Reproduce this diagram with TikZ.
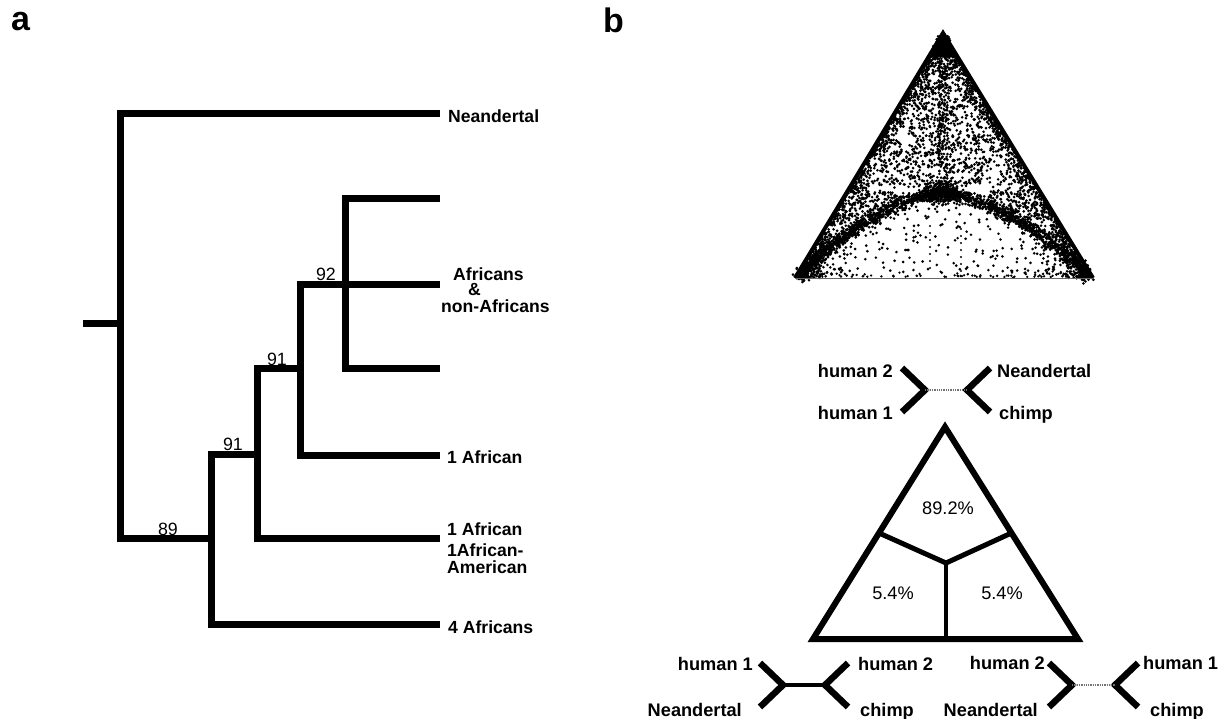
\documentclass[tikz,border=0pt]{standalone}
\usepackage{fontspec}
\setmainfont{Liberation Sans}
\usetikzlibrary{calc}
\begin{document}
\begin{tikzpicture}[x=1pt,y=-1pt,
  branch/.style={line width=7pt, line join=miter},
  lab/.style={font=\fontsize{17.6}{18}\selectfont\bfseries, inner sep=0pt},
  num/.style={font=\fontsize{17.8}{18}\selectfont, inner sep=0pt},
  qlab/.style={font=\fontsize{18.2}{19}\selectfont\bfseries, inner sep=0pt},
  pct/.style={font=\fontsize{18.2}{19}\selectfont, inner sep=0pt},
  panel/.style={font=\fontsize{34}{36}\selectfont\bfseries, inner sep=0pt},
  arm/.style={line width=6.5pt, line join=miter},
  shortbar/.style={line width=1.3pt, black!55, densely dotted},
  longbar/.style={line width=4.5pt},
  tri/.style={line width=6pt, line join=miter},
  dot/.style={fill=black}]
\useasboundingbox (0,0) rectangle (1225,719);

% ---------- panel labels
\node[panel, anchor=base west] (pa) at (11,31) {a};
\node[panel, anchor=base west] (pb) at (603,33) {b};

% ---------- tree (a)
\coordinate (root) at (83,323);
\coordinate (n0) at (120,323);
\coordinate (n89) at (211,538);
\coordinate (n91a) at (257,454);
\coordinate (n91b) at (300,368);
\coordinate (n92) at (345,284);
\coordinate (LN) at (440,114);
\coordinate (La) at (440,199);
\coordinate (Lb) at (440,284);
\coordinate (Lc) at (440,368);
\coordinate (L1) at (440,455);
\coordinate (L2) at (440,538);
\coordinate (L4) at (440,624);

\draw[branch] (root) -- (n0);
\draw[branch] (LN) -| (n0) |- (n89);
\draw[branch] (n91a) -| (n89) |- (L4);
\draw[branch] (n91b) -| (n91a) |- (L2);
\draw[branch] (n92) -| (n91b) |- (L1);
\draw[branch] (La) -| (n92) |- (Lc);
\draw[branch] (n92) -- (Lb);

\node[num, anchor=base east] (b92) at (336,280) {92};
\node[num, anchor=base east] (b91u) at (287,365) {91};
\node[num, anchor=base east] (b91l) at (243,450) {91};
\node[num, anchor=base east] (b89) at (178,535) {89};

\node[lab, anchor=base west] (tN) at (448,123) {Neandertal};
\node[lab, anchor=base west] (tAf1) at (453,280) {Africans};
\node[lab, anchor=base west] (tAf2) at (468,295.5) {\&};
\node[lab, anchor=base west] (tAf3) at (441,312) {non-Africans};
\node[lab, anchor=base west] (t1A) at (447,463) {1 African};
\node[lab, anchor=base west] (t2a) at (447,535) {1 African};
\node[lab, anchor=base west] (t2b) at (447,556) {1African-};
\node[lab, anchor=base west] (t2c) at (447,573) {American};
\node[lab, anchor=base west] (t4A) at (448,633) {4 Africans};

% ---------- scatter triangle (b, top)
\coordinate (SA) at (795,278);
\coordinate (SB) at (1093,278);
\coordinate (SC) at (943,33);
\pgfmathsetseed{4321}
% uniform over whole triangle (sparse)
\foreach \i in {1,...,450}{
  \pgfmathsetmacro\u{rnd}\pgfmathsetmacro\v{rnd}
  \pgfmathsetmacro\uu{(\u+\v>1)?1-\u:\u}
  \pgfmathsetmacro\vv{(\u+\v>1)?1-\v:\v}
  \fill[dot] ({795+298*\uu+148*\vv},{278-245*\vv}) circle (1.45);
}
% extra density in upper part
\foreach \i in {1,...,1050}{
  \pgfmathsetmacro\u{rnd}\pgfmathsetmacro\v{rnd}
  \pgfmathsetmacro\uu{(\u+\v>1)?1-\u:\u}
  \pgfmathsetmacro\vv{(\u+\v>1)?1-\v:\v}
  \fill[dot] ({851.2+184.8*\uu+91.8*\vv},{184.9-151.9*\vv}) circle (1.45);
}
% side lobes
\foreach \i in {1,...,240}{
  \pgfmathsetmacro\u{rnd}\pgfmathsetmacro\v{rnd}
  \pgfmathsetmacro\uu{(\u+\v>1)?1-\u:\u}
  \pgfmathsetmacro\vv{(\u+\v>1)?1-\v:\v}
  \fill[dot] ({800+51*\uu+105*\vv},{275-90*\uu-80*\vv}) circle (1.45);
  \fill[dot] ({1088-52*\uu-108*\vv},{275-90*\uu-80*\vv}) circle (1.45);
}
% left and right edge bands
\foreach \i in {1,...,650}{
  \pgfmathsetmacro\t{rnd}\pgfmathsetmacro\d{rnd*rnd*16}
  \fill[dot] ({795+148*\t+0.856*\d},{278-245*\t+0.517*\d}) circle (1.45);
  \pgfmathsetmacro\t{rnd}\pgfmathsetmacro\d{rnd*rnd*16}
  \fill[dot] ({1093-150*\t-0.853*\d},{278-245*\t+0.522*\d}) circle (1.45);
}
% apex and corner clusters
\foreach \i in {1,...,150}{
  \pgfmathsetmacro\u{rnd*rnd}\pgfmathsetmacro\v{rnd*rnd}
  \fill[dot] ({943-148*0.3*\u+150*0.3*\v},{33+245*0.3*(\u+\v)}) circle (1.45);
  \fill[dot] ({795+298*0.2*\u+148*0.2*\v},{278-245*0.2*\v}) circle (1.45);
  \fill[dot] ({1093-298*0.2*\u-150*0.2*\v},{278-245*0.2*\v}) circle (1.45);
}
% base band (sparse)
\foreach \i in {1,...,70}{
  \pgfmathsetmacro\t{rnd}\pgfmathsetmacro\d{rnd*rnd*6}
  \fill[dot] ({795+298*\t},{277-\d}) circle (1.3);
}
% two curved bands from the lower corners to the centre
\foreach \i in {1,...,800}{
  \pgfmathsetmacro\t{rnd}
  \pgfmathsetmacro\nx{(rnd+rnd-1)*8}\pgfmathsetmacro\ny{(rnd+rnd-1)*8}
  \fill[dot] ({(1-\t)*(1-\t)*800+2*\t*(1-\t)*868+\t*\t*941+\nx},{(1-\t)*(1-\t)*275+2*\t*(1-\t)*206+\t*\t*192+\ny}) circle (1.5);
  \pgfmathsetmacro\t{rnd}
  \pgfmathsetmacro\nx{(rnd+rnd-1)*8}\pgfmathsetmacro\ny{(rnd+rnd-1)*8}
  \fill[dot] ({(1-\t)*(1-\t)*1088+2*\t*(1-\t)*1016+\t*\t*943+\nx},{(1-\t)*(1-\t)*275+2*\t*(1-\t)*206+\t*\t*192+\ny}) circle (1.5);
}
% centre cluster
\foreach \i in {1,...,300}{
  \pgfmathsetmacro\nx{(rnd+rnd-1)*24}\pgfmathsetmacro\ny{(rnd+rnd-1)*13}
  \fill[dot] ({941+\nx},{193+\ny}) circle (1.45);
}
% vertical streak from apex to centre
\foreach \i in {1,...,150}{
  \pgfmathsetmacro\nx{(rnd-0.5)*9}\pgfmathsetmacro\y{60+rnd*130}
  \fill[dot] ({943+\nx},{\y}) circle (1.4);
}
% dotted columns below the centre
\foreach \yy in {226,233,...,274}{
  \fill[dot] (930,\yy) circle (1.2);
  \fill[dot] (961,\yy+3) circle (1.2);
}
% solid corners and edges
\fill[dot] (SC) -- ($(SC)!0.1!(SA)$) -- ($(SC)!0.1!(SB)$) -- cycle;
\fill[dot] (SA) -- ($(SA)!0.06!(SC)$) -- ($(SA)!0.05!(SB)$) -- cycle;
\fill[dot] (SB) -- ($(SB)!0.06!(SC)$) -- ($(SB)!0.05!(SA)$) -- cycle;
\draw[line width=4pt, line join=miter] (SA) -- (SC) -- (SB);
\draw[line width=1pt, black!60] (SA) -- (SB);

% ---------- top quartet tree
\coordinate (q1a) at (925,390);
\coordinate (q1b) at (967,390);
\coordinate (q1lt) at (902,368);
\coordinate (q1lb) at (902,412);
\coordinate (q1rt) at (990,368);
\coordinate (q1rb) at (990,412);
\draw[arm] (q1lt) -- (q1a) -- (q1lb);
\draw[arm] (q1rt) -- (q1b) -- (q1rb);
\draw[shortbar] (q1a) -- (q1b);
\node[qlab, anchor=base east] (q1h2) at (893,377) {human 2};
\node[qlab, anchor=base east] (q1h1) at (893,419) {human 1};
\node[qlab, anchor=base west] (q1N) at (997,377) {Neandertal};
\node[qlab, anchor=base west] (q1c) at (999,419) {chimp};

% ---------- percentage triangle
\coordinate (TA) at (945,427);
\coordinate (TL) at (813,639);
\coordinate (TR) at (1078,639);
\coordinate (Yc) at (946,563);
\draw[tri] (TA) -- (TL) -- (TR) -- cycle;
\draw[line width=5pt] (Yc) -- ($(TA)!0.5!(TL)$);
\draw[line width=5pt] (Yc) -- ($(TA)!0.5!(TR)$);
\draw[line width=3.5pt] (Yc) -- (Yc |- TL);
\node[pct] (p1) at (948,508) {89.2\%};
\node[pct] (p2) at (893,593) {5.4\%};
\node[pct] (p3) at (1002,593) {5.4\%};

% ---------- bottom-left quartet tree
\coordinate (q2a) at (783,685);
\coordinate (q2b) at (825,685);
\coordinate (q2lt) at (760,663);
\coordinate (q2lb) at (760,707);
\coordinate (q2rt) at (848,663);
\coordinate (q2rb) at (848,707);
\draw[arm] (q2lt) -- (q2a) -- (q2lb);
\draw[arm] (q2rt) -- (q2b) -- (q2rb);
\draw[longbar] (q2a) -- (q2b);
\node[qlab, anchor=base east] (q2h1) at (753,670) {human 1};
\node[qlab, anchor=base east] (q2N) at (742,716) {Neandertal};
\node[qlab, anchor=base west] (q2h2) at (858,670) {human 2};
\node[qlab, anchor=base west] (q2c) at (860,716) {chimp};

% ---------- bottom-right quartet tree
\coordinate (q3a) at (1072,685);
\coordinate (q3b) at (1115,685);
\coordinate (q3lt) at (1049,663);
\coordinate (q3lb) at (1049,707);
\coordinate (q3rt) at (1138,663);
\coordinate (q3rb) at (1138,707);
\draw[arm] (q3lt) -- (q3a) -- (q3lb);
\draw[arm] (q3rt) -- (q3b) -- (q3rb);
\draw[shortbar] (q3a) -- (q3b);
\node[qlab, anchor=base east] (q3h2) at (1045,669) {human 2};
\node[qlab, anchor=base east] (q3N) at (1038,716) {Neandertal};
\node[qlab, anchor=base west] (q3h1) at (1143,669) {human 1};
\node[qlab, anchor=base west] (q3c) at (1150,716) {chimp};
\end{tikzpicture}
\end{document}
